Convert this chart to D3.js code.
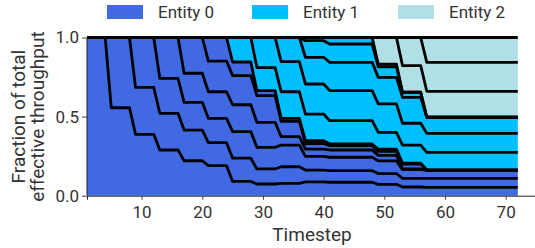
<!DOCTYPE html>
<html><head><meta charset="utf-8">
<script src="https://cdn.jsdelivr.net/npm/d3@7"></script>
<style>body{margin:0;background:#fff;} text{font-family:Roboto,"Noto Sans",sans-serif;}</style>
</head><body><svg id="c" width="535" height="248"></svg>
<script>
const timesteps = d3.range(1, 73);
const entityNames = ["Entity 0", "Entity 1", "Entity 2"];
const entityColors = ["#4169e1", "#00bfff", "#b0e0e6"];
const xTicks = [10, 20, 30, 40, 50, 60, 70];
const yTicks = [0, 0.5, 1];
// epochs: values hold from epochStart to epochEnd
const epochStart = [1, 5, 9, 13, 17, 21, 25, 29, 33, 37, 41, 49, 53, 57];
const epochEnd   = [4, 8, 12, 16, 20, 24, 28, 32, 36, 40, 48, 52, 56, 72];
// entity of the flow whose upper edge is each boundary
const flowEntity = [0, 0, 0, 0, 0, 0, 1, 1, 1, 1, 1, 2, 2, 2];
// cumulative fraction (upper edge of each flow), one value per epoch
const cum0  = [1, 0.556, 0.388, 0.289, 0.221, 0.190, 0.090, 0.074, 0.078, 0.088, 0.085, 0.072, 0.055, 0.053];
const cum1  = [1, 1, 0.685, 0.521, 0.415, 0.335, 0.237, 0.169, 0.183, 0.162, 0.158, 0.140, 0.110, 0.110];
const cum2  = [1, 1, 1, 0.742, 0.590, 0.489, 0.405, 0.306, 0.320, 0.248, 0.243, 0.220, 0.165, 0.162];
const cum3  = [1, 1, 1, 1, 0.774, 0.657, 0.575, 0.464, 0.373, 0.295, 0.289, 0.255, 0.170, 0.162];
const cum4  = [1, 1, 1, 1, 1, 0.851, 0.759, 0.632, 0.470, 0.330, 0.316, 0.280, 0.200, 0.162];
const cum5  = [1, 1, 1, 1, 1, 1, 0.845, 0.664, 0.489, 0.348, 0.327, 0.295, 0.205, 0.162];
const cum6  = [1, 1, 1, 1, 1, 1, 1, 0.810, 0.657, 0.516, 0.474, 0.400, 0.320, 0.274];
const cum7  = [1, 1, 1, 1, 1, 1, 1, 1, 0.847, 0.706, 0.664, 0.580, 0.458, 0.394];
const cum8  = [1, 1, 1, 1, 1, 1, 1, 1, 1, 0.875, 0.843, 0.748, 0.622, 0.496];
const cum9  = [1, 1, 1, 1, 1, 1, 1, 1, 1, 0.980, 0.959, 0.815, 0.654, 0.496];
const cum10 = [1, 1, 1, 1, 1, 1, 1, 1, 1, 1, 1, 0.832, 0.654, 0.496];
const cum11 = [1, 1, 1, 1, 1, 1, 1, 1, 1, 1, 1, 1, 0.822, 0.660];
const cum12 = [1, 1, 1, 1, 1, 1, 1, 1, 1, 1, 1, 1, 1, 0.843];
const cum13 = [1, 1, 1, 1, 1, 1, 1, 1, 1, 1, 1, 1, 1, 1];
const cumLines = [cum0, cum1, cum2, cum3, cum4, cum5, cum6, cum7, cum8, cum9, cum10, cum11, cum12, cum13];

// series points: hold value across each epoch (line joins neighbouring epochs)
function seriesPoints(arr) {
  const pts = [];
  epochStart.forEach((s, i) => {
    pts.push({t: s, v: arr[i]});
    if (epochEnd[i] !== s) pts.push({t: epochEnd[i], v: arr[i]});
  });
  return pts;
}

const svg = d3.select("#c");
const x = d3.scaleLinear().domain([1, 75]).range([87, 536]);
const y = d3.scaleLinear().domain([0, 1]).range([195.7, 37.5]);

// areas
const zeros = cum0.map(() => 0);
cumLines.forEach((arr, k) => {
  const lower = k === 0 ? zeros : cumLines[k - 1];
  const up = seriesPoints(arr), lo = seriesPoints(lower);
  const data = up.map((p, i) => ({t: p.t, v1: p.v, v0: lo[i].v}));
  svg.append("path").datum(data)
    .attr("fill", entityColors[flowEntity[k]])
    .attr("d", d3.area().x(d => x(d.t)).y0(d => y(d.v0)).y1(d => y(d.v1)));
});
// boundary lines
cumLines.forEach((arr) => {
  svg.append("path").datum(seriesPoints(arr))
    .attr("fill", "none").attr("stroke", "#000").attr("stroke-width", 2.8)
    .attr("stroke-linejoin", "round")
    .attr("d", d3.line().x(d => x(d.t)).y(d => y(d.v)));
});

// axes
const xAxis = svg.append("g").attr("transform", "translate(0,195.7)")
  .call(d3.axisBottom(x).tickValues(xTicks).tickSize(4).tickPadding(6.5).tickFormat(d3.format("d")));
const yAxis = svg.append("g").attr("transform", "translate(87,0)")
  .call(d3.axisLeft(y).tickValues(yTicks).tickSize(5).tickPadding(3).tickFormat(d3.format(".1f")));
[xAxis, yAxis].forEach(g => {
  g.select(".domain").attr("stroke", "#222").attr("stroke-width", 1);
  g.selectAll(".tick line").attr("stroke", "#444");
  g.selectAll("text").attr("fill", "#333").style("font-size", "17px").style("font-family", "Roboto");
});
yAxis.select(".domain").attr("d", "M0,195.7V37.5");

svg.append("text").attr("x", 312).attr("y", 241).attr("text-anchor", "middle")
  .attr("fill", "#333").style("font-size", "19px").text("Timestep");
const yl = svg.append("g").attr("transform", "translate(0,116.6) rotate(-90)");
yl.append("text").attr("x", 0).attr("y", 25).attr("text-anchor", "middle")
  .attr("fill", "#333").style("font-size", "19px").text("Fraction of total");
yl.append("text").attr("x", 0).attr("y", 44).attr("text-anchor", "middle")
  .attr("fill", "#333").style("font-size", "19px").text("effective throughput");

// legend
const legX = [107, 252, 398];
entityNames.forEach((name, i) => {
  svg.append("rect").attr("x", legX[i]).attr("y", 5).attr("width", 36).attr("height", 14)
    .attr("fill", entityColors[i]);
  svg.append("text").attr("x", legX[i] + 51).attr("y", 18).attr("fill", "#333")
    .style("font-size", "17px").text(name);
});
</script></body></html>
